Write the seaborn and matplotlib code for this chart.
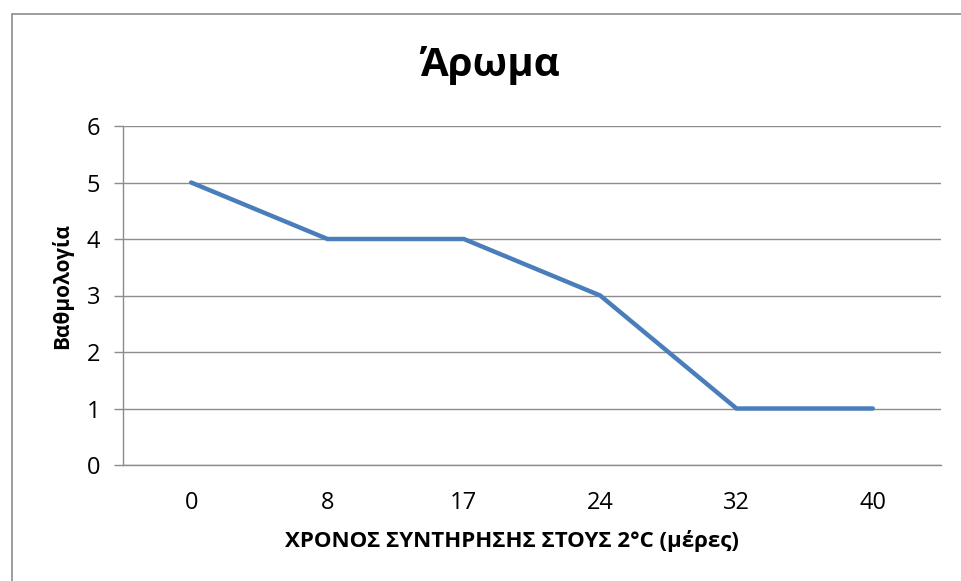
import matplotlib
matplotlib.use("Agg")
import matplotlib.pyplot as plt
import seaborn as sns
import numpy as np
import pandas as pd
from matplotlib.lines import Line2D

days = ["0", "8", "17", "24", "32", "40"]
scores = [5, 4, 4, 3, 1, 1]
title = "Άρωμα"
xlabel = "ΧΡΟΝΟΣ ΣΥΝΤΗΡΗΣΗΣ ΣΤΟΥΣ 2°C (μέρες)"
ylabel = "Βαθμολογία"

sns.set_theme(style="white")
plt.rcParams['font.family'] = ['Open Sans', 'DejaVu Sans']

W, H = 962, 581
fig = plt.figure(figsize=(W / 100, H / 100), dpi=100)
L, R, T, B = 123, 941, 126, 465
ax = fig.add_axes([L / W, 1 - B / H, (R - L) / W, (B - T) / H])

df = pd.DataFrame({"pos": np.arange(len(days)), "score": scores})
sns.lineplot(data=df, x="pos", y="score", ax=ax, color="#4A7EBB", linewidth=3.2,
             solid_capstyle="round", solid_joinstyle="miter")

ax.set_xlim(-0.5, len(days) - 0.5)
ax.set_ylim(0, 6)
ax.set_yticks(range(0, 7))
ax.set_xticks(np.arange(len(days)))
ax.set_xticklabels(days)
ax.grid(axis="y", color="#8c8c8c", linewidth=1)
ax.set_axisbelow(True)
for side in ["top", "right"]:
    ax.spines[side].set_visible(False)
for side in ["left", "bottom"]:
    ax.spines[side].set_color("#8c8c8c")
    ax.spines[side].set_linewidth(1)
ax.tick_params(axis="y", which="major", left=True, length=6.5, color="#8c8c8c",
               width=1, labelsize=17, pad=10, labelcolor="black")
# x tick labels: baseline 44 px below the axis line
ax.tick_params(axis="x", bottom=False, length=0, labelsize=17, pad=44 * 0.72,
               labelcolor="black")
for lab in ax.get_xticklabels():
    lab.set_verticalalignment("baseline")

ax.set_xlabel(xlabel, fontsize=16, fontweight="bold", color="black", va="baseline")
ax.xaxis.set_label_coords((512 - L) / (R - L), (B - 547) / (B - T))
ax.set_ylabel(ylabel, fontsize=15, fontweight="bold", color="black", va="center")
ax.yaxis.set_label_coords((62 - L) / (R - L), (B - 286) / (B - T))

fig.text(490 / W, 1 - 76 / H, title, ha="center", va="baseline", fontsize=29,
         fontweight="bold", color="black")

# outer chart frame (cropped at right and bottom)
fig.add_artist(Line2D([11.5 / W, 11.5 / W], [0, 1 - 13.5 / H], transform=fig.transFigure,
                      color="#8c8c8c", linewidth=1.2))
fig.add_artist(Line2D([11.5 / W, 1], [1 - 13.5 / H, 1 - 13.5 / H], transform=fig.transFigure,
                      color="#8c8c8c", linewidth=1.2))

fig.savefig("out.png", dpi=100)
